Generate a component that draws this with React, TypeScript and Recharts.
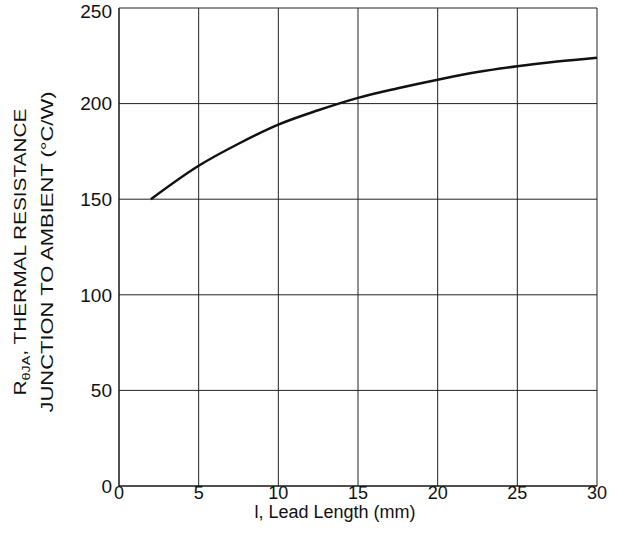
import { LineChart, Line, XAxis, YAxis, CartesianGrid } from 'recharts';

const leadLength = [2, 5, 7.5, 10, 12.5, 15, 17.5, 20, 22.5, 25, 27.5, 30];
const thermalResistance = [150, 167.5, 179, 189, 196.5, 203, 208, 212.5, 216.5, 219.5, 222, 224];
const xTicks = [0, 5, 10, 15, 20, 25, 30];
const yTicks = [0, 50, 100, 150, 200, 250];

const data = leadLength.map((l, i) => ({ l, r: thermalResistance[i] }));

const font = '"Liberation Sans", Arial, sans-serif';

const YLabel = () => (
  <g fill="#111" fontFamily={font}>
    <text
      x={26}
      y={252}
      transform="rotate(-90, 26, 252)"
      textAnchor="middle"
      fontSize={16}
      textLength={287}
      lengthAdjust="spacingAndGlyphs"
    >
      R
      <tspan fontSize={11} dy={4}>θJA</tspan>
      <tspan dy={-4}>, THERMAL RESISTANCE</tspan>
    </text>
    <text
      x={53}
      y={252}
      transform="rotate(-90, 53, 252)"
      textAnchor="middle"
      fontSize={16}
      textLength={321}
      lengthAdjust="spacingAndGlyphs"
    >
      JUNCTION TO AMBIENT (°C/W)
    </text>
  </g>
);

const XLabel = () => (
  <text x={335} y={518} textAnchor="middle" fontSize={18} fill="#111" fontFamily={font}>
    l, Lead Length (mm)
  </text>
);

export default function App() {
  return (
    <div style={{ position: 'absolute', left: 0, top: 0, width: 629, height: 539, background: '#fff' }}>
      <LineChart width={629} height={539} data={data} margin={{ top: 8, right: 32, bottom: 0, left: 0 }}>
        <CartesianGrid stroke="#222" strokeWidth={1} />
        <XAxis
          type="number"
          dataKey="l"
          domain={[0, 30]}
          ticks={xTicks}
          height={53}
          tickLine={false}
          tickSize={0}
          tickMargin={0}
          axisLine={{ stroke: '#111' }}
          tick={{ fill: '#111', fontSize: 18, fontFamily: font }}
          label={{ content: () => <XLabel /> }}
        />
        <YAxis
          type="number"
          domain={[0, 250]}
          ticks={yTicks}
          width={119}
          tickLine={false}
          tickSize={0}
          tickMargin={7}
          axisLine={{ stroke: '#111' }}
          tick={{ fill: '#111', fontSize: 19, fontFamily: font }}
          label={{ content: () => <YLabel /> }}
        />
        <Line
          type="monotone"
          dataKey="r"
          stroke="#111"
          strokeWidth={2.5}
          dot={false}
          isAnimationActive={false}
        />
      </LineChart>
    </div>
  );
}
